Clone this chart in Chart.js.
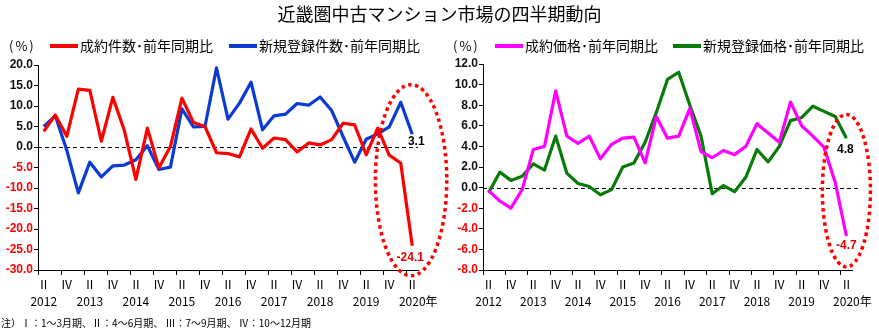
<!DOCTYPE html>
<html>
<head>
<meta charset="utf-8">
<script src="https://cdn.jsdelivr.net/npm/chart.js@4/dist/chart.umd.min.js"></script>
<style>
  html, body { margin: 0; padding: 0; background: #fff; }
  #wrap { position: relative; width: 879px; height: 333px; overflow: hidden;
          font-family: 'Noto Sans CJK JP', sans-serif; color: #000; }
  #title { position: absolute; left: 0; top: 1px; width: 879px; text-align: center;
           font-size: 18px; line-height: 24px; }
  #cvLeft { position: absolute; left: 0; top: 0; }
  #cvRight { position: absolute; left: 440px; top: 0; }
  .unit { position: absolute; top: 37px; font-size: 13px; line-height: 18px; letter-spacing: 2px; }
  #note { position: absolute; left: 1px; top: 316px; font-size: 10px; line-height: 13px; white-space: pre; }
</style>
</head>
<body>
<div id="wrap">
  <canvas id="cvLeft" width="460" height="333"></canvas>
  <canvas id="cvRight" width="439" height="333"></canvas>
  <div id="title">近畿圏中古マンション市場の四半期動向</div>
  <div class="unit" style="left:9px">(%)</div>
  <div class="unit" style="left:453px">(%)</div>
  <div id="note">注）Ⅰ：1～3月期、Ⅱ：4～6月期、 Ⅲ：7～9月期、 Ⅳ：10～12月期</div>
</div>
<script>
// Quarters 2012 Q2 .. 2020 Q2
const categories = [
  '2012-2','2012-3','2012-4',
  '2013-1','2013-2','2013-3','2013-4',
  '2014-1','2014-2','2014-3','2014-4',
  '2015-1','2015-2','2015-3','2015-4',
  '2016-1','2016-2','2016-3','2016-4',
  '2017-1','2017-2','2017-3','2017-4',
  '2018-1','2018-2','2018-3','2018-4',
  '2019-1','2019-2','2019-3','2019-4',
  '2020-1','2020-2'
];
const quarterRoman = { 1: 'Ⅰ', 2: 'Ⅱ', 3: 'Ⅲ', 4: 'Ⅳ' };
const yearTickText = {
  2012: '2012', 2013: '2013', 2014: '2014', 2015: '2015', 2016: '2016',
  2017: '2017', 2018: '2018', 2019: '2019', 2020: '　2020年'
};

// 成約件数・新規登録件数 (前年同期比, %)
const contractCount = [3.8, 7.8, 2.6, 14.1, 13.8, 1.4, 12.1, 4.0, -7.9, 4.6, -5.1, 0.1,
  11.9, 6.0, 5.0, -1.4, -1.6, -2.4, 4.4, -0.3, 2.2, 1.8, -1.2, 1.0, 0.5, 1.8,
  5.8, 5.4, -1.9, 4.6, -2.0, -3.9, -24.1];
const listingCount = [5.0, 7.6, -0.8, -11.2, -3.7, -7.3, -4.6, -4.4, -3.1, 0.3, -5.5, -4.9,
  9.3, 4.9, 5.0, 19.3, 6.8, 10.7, 15.8, 4.2, 7.6, 8.0, 10.6, 10.2, 12.2, 8.9,
  2.5, -3.7, 1.9, 3.2, 4.9, 10.9, 3.1];

// 成約価格・新規登録価格 (前年同期比, %)
const contractPrice = [-0.3, -1.3, -2.0, -0.2, 3.7, 4.0, 9.4, 5.0, 4.3, 5.0, 2.8, 4.2,
  4.8, 4.9, 2.4, 6.9, 4.8, 5.0, 7.7, 3.5, 2.9, 3.6, 3.2, 4.0, 6.2, 5.3,
  4.4, 8.3, 6.0, 5.0, 3.9, 0.5, -4.7];
const listingPrice = [-0.5, 1.5, 0.7, 1.1, 2.3, 1.7, 5.0, 1.4, 0.4, 0.1, -0.7, -0.2,
  2.0, 2.4, 4.4, 7.3, 10.5, 11.2, 8.0, 5.0, -0.6, 0.2, -0.4, 1.0, 3.7, 2.5,
  4.0, 6.5, 6.8, 7.9, 7.4, 6.9, 4.8];

const FONT_JP = "'Noto Sans CJK JP', sans-serif";
const FONT_NUM = "'Liberation Sans', Arial, sans-serif";

function tickLabel(index) {
  if (index % 2 !== 0) return '';
  const [y, q] = categories[index].split('-').map(Number);
  return [quarterRoman[q], q === 2 ? yearTickText[y] : ''];
}

// dashed zero reference line
const zeroLine = {
  id: 'zeroLine',
  beforeDatasetsDraw(chart) {
    const { ctx, chartArea, scales } = chart;
    const y = Math.round(scales.y.getPixelForValue(0)) + 0.5;
    ctx.save();
    ctx.strokeStyle = '#000';
    ctx.lineWidth = 1;
    ctx.setLineDash([4, 3]);
    ctx.beginPath();
    ctx.moveTo(chartArea.left, y);
    ctx.lineTo(chartArea.right + (chart.options.plugins.zeroLine.extend || 0), y);
    ctx.stroke();
    ctx.restore();
  }
};

// legend row drawn above the plot
const lineLegend = {
  id: 'lineLegend',
  afterDraw(chart, args, opts) {
    const { ctx } = chart;
    ctx.save();
    ctx.font = '14px ' + FONT_JP;
    ctx.textBaseline = 'middle';
    chart.data.datasets.forEach((ds, i) => {
      const x = opts.starts[i];
      ctx.fillStyle = ds.borderColor;
      ctx.fillRect(x, opts.y - 2, 28, 4);
      ctx.fillStyle = '#000';
      ctx.fillText(ds.label, x + 30, opts.y);
    });
    ctx.restore();
  }
};

// value labels on the latest quarter
const lastValueLabels = {
  id: 'lastValueLabels',
  afterDatasetsDraw(chart, args, opts) {
    const { ctx } = chart;
    ctx.save();
    ctx.font = 'bold 12px ' + FONT_NUM;
    ctx.textAlign = 'center';
    ctx.textBaseline = 'middle';
    chart.data.datasets.forEach((ds, i) => {
      const meta = chart.getDatasetMeta(i);
      const n = ds.data.length - 1;
      const pt = meta.data[n];
      const v = ds.data[n];
      const off = opts.offsets[i];
      ctx.fillStyle = v < 0 ? '#e00000' : '#000';
      ctx.fillText(v.toFixed(1), pt.x + off[0], pt.y + off[1]);
    });
    ctx.restore();
  }
};

// dotted red ellipse around the latest quarters
const highlightEllipse = {
  id: 'highlightEllipse',
  afterDraw(chart, args, opts) {
    const { ctx, scales } = chart;
    const x1 = scales.x.getPixelForValue(opts.fromIndex);
    const x2 = scales.x.getPixelForValue(opts.toIndex);
    const y1 = scales.y.getPixelForValue(opts.top);
    const y2 = scales.y.getPixelForValue(opts.bottom);
    ctx.save();
    ctx.strokeStyle = '#ff0000';
    ctx.lineWidth = 3.5;
    ctx.setLineDash([3.5, 3.5]);
    ctx.beginPath();
    ctx.ellipse((x1 + x2) / 2, (y1 + y2) / 2, (x2 - x1) / 2, (y2 - y1) / 2, 0, 0, Math.PI * 2);
    ctx.stroke();
    ctx.restore();
  }
};

function makeChart(canvas, cfg) {
  return new Chart(canvas, {
    type: 'line',
    data: {
      labels: categories,
      datasets: cfg.series.map(s => ({
        label: s.label,
        data: s.data,
        borderColor: s.color,
        backgroundColor: s.color,
        borderWidth: 3.2,
        pointRadius: 0,
        tension: 0,
        borderJoinStyle: 'round'
      }))
    },
    options: {
      responsive: false,
      animation: false,
      devicePixelRatio: 1,
      layout: { padding: cfg.padding },
      plugins: {
        legend: { display: false },
        tooltip: { enabled: false },
        zeroLine: { extend: cfg.zeroExtend || 0 },
        lineLegend: cfg.legend,
        lastValueLabels: { offsets: cfg.labelOffsets },
        highlightEllipse: cfg.ellipse
      },
      scales: {
        x: {
          type: 'category',
          offset: true,
          afterFit(scale) { scale.height = 45; },
          grid: {
            offset: true,
            drawOnChartArea: false,
            drawTicks: true,
            tickLength: 5,
            tickColor: c => (c.index % 2 === 0 && c.index < categories.length) ? '#000' : 'rgba(0,0,0,0)'
          },
          border: { display: true, color: '#000', width: 1 },
          ticks: {
            autoSkip: false,
            maxRotation: 0,
            minRotation: 0,
            padding: 1,
            color: '#000',
            font: { family: FONT_JP, size: 12, lineHeight: 1.4 },
            callback: (v, i) => tickLabel(i)
          }
        },
        y: {
          min: cfg.yMin,
          max: cfg.yMax,
          afterFit(scale) { scale.width = cfg.yWidth; },
          grid: {
            drawOnChartArea: false,
            drawTicks: true,
            tickLength: 4,
            tickColor: '#000'
          },
          border: { display: true, color: '#000', width: 1 },
          ticks: {
            stepSize: cfg.yStep,
            padding: 1,
            font: { family: FONT_NUM, size: 12, weight: 'bold' },
            color: c => (c.tick && c.tick.value < 0) ? '#ff0000' : '#111',
            callback: v => Number(v).toFixed(1)
          }
        }
      }
    },
    plugins: [zeroLine, lineLegend, lastValueLabels, highlightEllipse]
  });
}

makeChart(document.getElementById('cvLeft'), {
  series: [
    { label: '成約件数･前年同期比', data: contractCount, color: '#ff0000' },
    { label: '新規登録件数･前年同期比', data: listingCount, color: '#0a3cd2' }
  ],
  yMin: -30, yMax: 20, yStep: 5, yWidth: 38,
  padding: { left: 0, right: 42, top: 65, bottom: 18 },
  legend: { starts: [50, 229], y: 46 },
  labelOffsets: [[-2, 12], [4, 7]],
  ellipse: { fromIndex: 28.8, toIndex: 35.0, top: 15.2, bottom: -31.4 }
});

makeChart(document.getElementById('cvRight'), {
  series: [
    { label: '成約価格･前年同期比', data: contractPrice, color: '#ff00ff' },
    { label: '新規登録価格･前年同期比', data: listingPrice, color: '#087a08' }
  ],
  yMin: -8, yMax: 12, yStep: 2, yWidth: 43,
  padding: { left: 0, right: 27, top: 64, bottom: 18 },
  zeroExtend: 7,
  legend: { starts: [55, 233], y: 46 },
  labelOffsets: [[0, 10], [-1, 12]],
  ellipse: { fromIndex: 29.85, toIndex: 34.15, top: 7.1, bottom: -7.7 }
});
</script>
</body>
</html>
